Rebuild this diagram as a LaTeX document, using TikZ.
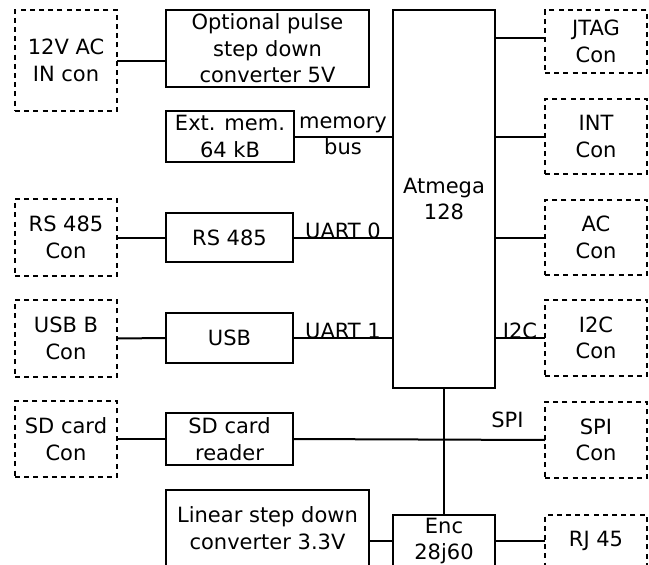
\documentclass[tikz,border=0pt]{standalone}
\usepackage{fontspec}
\setmainfont{DejaVu Sans}
\begin{document}
\begin{tikzpicture}[x=1pt,y=-1pt,
  blk/.style={draw=black, line width=2pt, inner sep=0pt, outer sep=0pt, align=center, font=\fontsize{21}{26.5}\selectfont},
  con/.style={blk, dash pattern=on 5pt off 4.2pt},
  wire/.style={draw=black, line width=2pt},
  lbl/.style={inner sep=0pt, font=\fontsize{21}{26.5}\selectfont, align=center}]
\useasboundingbox (0,0) rectangle (649,565);
\clip (0,0) rectangle (649,564);
% left column connectors
\node[con, minimum width=102pt, minimum height=101pt] (in12) at (66,60.5) {12V AC\\IN con};
\node[con, minimum width=102pt, minimum height=77pt] (rsc) at (66,237.5) {RS 485\\Con};
\node[con, minimum width=102pt, minimum height=77pt] (usbc) at (66,338.5) {USB B\\Con};
\node[con, minimum width=102pt, minimum height=76pt] (sdc) at (66,439) {SD card\\Con};
% middle blocks
\node[blk, minimum width=203pt, minimum height=77pt] (opt) at (267.5,48.5) {Optional pulse\\step down\\converter 5V};
\node[blk, minimum width=128pt, minimum height=51pt] (mem) at (230,136.5) {Ext. mem.\\64 kB};
\node[blk, minimum width=127pt, minimum height=49pt] (rs) at (229.5,237.5) {RS 485};
\node[blk, minimum width=127pt, minimum height=50pt] (usb) at (229.5,338) {USB};
\node[blk, minimum width=127pt, minimum height=52pt] (sdr) at (229.5,439) {SD card\\reader};
\node[blk, minimum width=203pt, minimum height=76pt] (lin) at (267.5,528) {Linear step down\\converter 3.3V};
% MCU and ethernet
\node[blk, minimum width=102pt, minimum height=378pt] (atm) at (444,199) {Atmega\\128};
\node[blk, minimum width=102pt, minimum height=52pt] (enc) at (444,541) {Enc\\28j60};
% right column connectors
\node[con, minimum width=102pt, minimum height=63pt] (jtag) at (596,41.5) {JTAG\\Con};
\node[con, minimum width=102pt, minimum height=75pt] (int) at (596,136.5) {INT\\Con};
\node[con, minimum width=102pt, minimum height=75pt] (ac) at (596,237.5) {AC\\Con};
\node[con, minimum width=102pt, minimum height=76pt] (i2c) at (596,338) {I2C\\Con};
\node[con, minimum width=102pt, minimum height=76pt] (spi) at (596,440) {SPI\\Con};
\node[con, minimum width=102pt, minimum height=52pt] (rj) at (596,541) {RJ 45};
% wires
\draw[wire] (in12.east) -- (opt.west |- in12.east);
\draw[wire] (mem.east) -- (mem.east -| atm.west);
\draw[wire] (rsc.east) -- (rs.west);
\draw[wire] (rs.east) -- (rs.east -| atm.west);
\draw[wire] (usbc.east) -- (usb.west);
\draw[wire] (usb.east) -- (usb.east -| atm.west);
\draw[wire] (sdc.east) -- (sdr.west);
\draw[wire] (sdr.east) -- (spi.west);
\draw[wire] (atm.south) -- (enc.north);
\draw[wire] ([yshift=3.5pt]jtag.west -| atm.east) -- ([yshift=3.5pt]jtag.west);
\draw[wire] (int.west -| atm.east) -- (int.west);
\draw[wire] (ac.west -| atm.east) -- (ac.west);
\draw[wire] (i2c.west -| atm.east) -- (i2c.west);
\draw[wire] (enc.west -| lin.east) -- (enc.west);
\draw[wire] (enc.east) -- (rj.west);
% bus labels
\node[lbl] (lmem) at (343,136) {memory\\bus};
\node[lbl, anchor=base] (lu0) at (343,238) {UART 0};
\node[lbl, anchor=base] (lu1) at (343,338) {UART 1};
\node[lbl, anchor=base] (li2c) at (520,338) {I2C};
\node[lbl, anchor=base] (lspi) at (507.5,427) {SPI};
\end{tikzpicture}
\end{document}
